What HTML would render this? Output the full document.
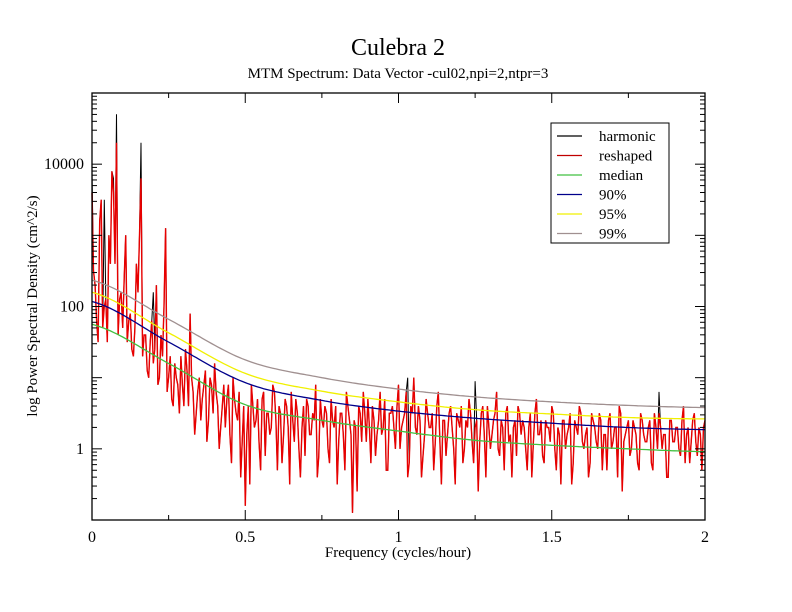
<!DOCTYPE html>
<html><head><meta charset="utf-8"><style>
body{margin:0;background:#fff;}
svg{display:block;font-family:"Liberation Serif",serif;}
</style></head><body>
<svg id="chart" width="792" height="612" viewBox="0 0 792 612">
<rect width="792" height="612" fill="#fff"/>
<text x="398" y="55" font-size="24" text-anchor="middle">Culebra 2</text>
<text x="398" y="78" font-size="15" text-anchor="middle">MTM Spectrum: Data Vector -cul02,npi=2,ntpr=3</text>
<text x="398" y="557" font-size="15" text-anchor="middle">Frequency (cycles/hour)</text>
<text transform="translate(37,306) rotate(-90)" font-size="15" text-anchor="middle">log Power Spectral Density (cm^2/s)</text>
<g id="marks"></g>
<g id="axes"></g>
<g>
<rect x="551" y="123" width="118" height="120" fill="#fff" stroke="#000" stroke-width="1"/>
<g id="legend-items"></g>
</g>
</svg>
<script>
const reshapedLog = [3.6,2.3,1.5,3.5,2.0,1.5,2.6,3.6,4.3,2.1,1.7,
3.0,1.8,1.4,1.7,2.2,3.8,1.6,1.1,1.5,1.2,
2.3,1.0,1.3,3.1,1.0,0.7,1.2,0.9,1.3,0.6,
1.1,1.9,0.8,0.5,1.0,0.7,1.1,0.4,0.9,1.2,
0.6,0.3,0.9,0.7,0.2,1.0,0.5,0.8,0.1,-0.8,
0.6,0.9,0.3,0.7,-0.3,0.8,0.5,0.2,0.9,0.4,
0.6,-0.2,0.7,0.3,0.8,0.1,0.5,-0.4,0.6,0.7,
0.2,0.5,0.9,-0.1,0.4,0.6,0.0,0.7,0.3,-0.5,
0.5,0.2,0.8,0.4,-0.9,0.3,0.6,0.1,0.5,0.7,
-0.2,0.4,0.2,0.8,0.3,-0.3,0.5,0.6,0.0,0.9,
0.3,0.5,-0.4,0.6,1.0,0.2,0.4,-0.1,0.7,0.3,
0.5,0.1,0.8,-0.5,0.4,0.2,0.6,0.0,0.5,0.3,
-0.2,0.4,0.7,0.1,0.3,-0.6,0.5,0.2,0.6,0.0,
0.4,0.8,-0.1,0.3,0.5,0.1,-0.4,0.4,0.6,0.2,
0.3,-0.3,0.5,0.1,0.7,0.2,-0.1,0.4,0.3,0.6,
0.0,0.3,-0.5,0.4,0.2,0.5,-0.2,0.3,0.6,0.1,
0.2,-0.4,0.5,0.3,0.0,0.4,0.2,-0.3,0.5,0.1,
0.3,0.6,-0.6,0.2,0.4,0.0,0.3,-0.2,0.5,0.2,
0.1,0.4,-0.3,0.3,0.5,0.0,0.2,-0.4,0.4,0.1,
0.3,-0.1,0.6,0.2,-0.2,0.4,0.1,0.3,-0.3,0.4];
const reshapedMidLog = [2.5,1.8,3.2,1.7,2.1,3.0,3.9,2.6,1.6,2.2,
2.4,1.5,1.9,1.3,2.6,3.0,1.3,1.6,1.0,1.8,
1.4,0.9,1.6,2.0,0.8,1.3,0.6,1.0,0.5,0.9,
1.4,0.6,1.0,0.2,0.8,0.4,0.9,0.1,1.0,0.5,
0.8,0.0,0.6,0.3,0.9,-0.2,0.7,0.4,-0.4,0.6,
0.2,-0.5,0.6,0.4,0.1,0.7,-0.1,0.5,0.3,0.8,
-0.3,0.5,0.2,0.6,-0.5,0.4,0.7,0.0,0.3,-0.1,
0.6,0.2,0.4,-0.4,0.7,0.3,0.5,-0.2,0.4,0.6,
0.1,0.5,-0.3,0.6,0.2,0.4,-0.6,0.5,0.8,0.1,
0.3,0.6,-0.1,0.4,0.2,0.7,-0.3,0.5,0.3,0.6,
0.0,0.4,0.8,-0.2,0.5,0.3,0.6,-0.4,0.2,0.5,
0.3,-0.3,0.6,0.1,0.4,-0.1,0.5,0.3,-0.5,0.4,
0.6,0.0,0.3,0.5,-0.2,0.4,0.1,0.6,-0.4,0.3,
0.2,0.5,0.0,0.4,-0.3,0.6,0.2,0.3,-0.1,0.5,
0.4,0.0,0.3,-0.4,0.5,0.2,0.4,-0.2,0.3,0.1,
0.5,-0.3,0.2,0.4,0.0,0.3,-0.5,0.4,0.2,0.5,
0.0,0.3,-0.2,0.4,0.1,0.5,-0.3,0.2,0.4,0.0,
0.3,-0.4,0.5,0.1,0.3,-0.1,0.4,0.2,-0.3,0.4,
0.1,0.3,-0.2,0.5,0.0,0.3,0.2,-0.4,0.4,0.1,
0.3,0.0,0.4,-0.2,0.3,0.1,0.5,-0.1,0.2,0.3];
const harmonicPeakFreq = [0,0.04,0.07,0.08,0.16,0.2,1.03,1.25,1.85];
const harmonicPeakLog = [3.9,3.5,3.8,4.7,4.3,2.2,1.0,0.95,0.8];
const thrFreq = [0,0.25,0.5,0.75,1,1.25,1.5,1.75,2];
const medianLog = [1.75,1.2,0.62,0.4,0.25,0.12,0.05,0.0,-0.04];
const p90Log = [2.07,1.5,0.93,0.68,0.53,0.43,0.36,0.3,0.27];
const p95Log = [2.2,1.63,1.06,0.81,0.66,0.55,0.49,0.44,0.42];
const p99Log = [2.37,1.82,1.25,1.0,0.84,0.73,0.66,0.61,0.58];
const xTicks = [0,0.5,1,1.5,2];
const xTickLabels = ['0','0.5','1','1.5','2'];
const yTickExps = [0,2,4];
const yTickLabels = ['1','100','10000'];

const X0=92,X1=705,Y0=93,Y1=520, LMIN=-1, LMAX=5;
const sx = f => X0 + (f/2)*(X1-X0);
const sy = l => Y1 - (l-LMIN)/(LMAX-LMIN)*(Y1-Y0);
const NS='http://www.w3.org/2000/svg';
const marks=document.getElementById('marks');
const axes=document.getElementById('axes');
function mk(tag, attrs, parent){const e=document.createElementNS(NS,tag);for(const k in attrs)e.setAttribute(k,attrs[k]);parent.appendChild(e);return e;}
function pathFrom(fs, ls){return fs.map((f,i)=>(i?'L':'M')+sx(f).toFixed(1)+','+sy(ls[i]).toFixed(1)).join('');}
function smoothPath(fs, ls){
  let d='';
  for(let k=0;k<=200;k++){
    const f=2*k/200;
    let j=Math.min(Math.floor(f/0.25),fs.length-2);
    const t=(f-fs[j])/(fs[j+1]-fs[j]);
    const p0=ls[Math.max(j-1,0)],p1=ls[j],p2=ls[j+1],p3=ls[Math.min(j+2,ls.length-1)];
    const v=0.5*((2*p1)+(-p0+p2)*t+(2*p0-5*p1+4*p2-p3)*t*t+(-p0+3*p1-3*p2+p3)*t*t*t);
    d+=(k?'L':'M')+sx(f).toFixed(1)+','+sy(v).toFixed(1);
  }
  return d;
}
const freqs=[], vals=[];
reshapedLog.forEach((v,i)=>{
  freqs.push(i*0.01); vals.push(v);
  if(i<reshapedMidLog.length){freqs.push(i*0.01+0.005); vals.push(reshapedMidLog[i]);}
});
const harm = vals.slice();
harmonicPeakFreq.forEach((f,i)=>{harm[Math.round(f/0.005)]=harmonicPeakLog[i];});
const hp=mk('path',{d:pathFrom(freqs,harm),fill:'none',stroke:'#000','stroke-width':1},marks);


const rp=mk('path',{d:pathFrom(freqs,vals),fill:'none',stroke:'#e80000','stroke-width':1.4},marks);


const thr=[['median-line',medianLog,'#40c040'],['p90-line',p90Log,'#00008b'],['p95-line',p95Log,'#f0f000'],['p99-line',p99Log,'#a09090']];
thr.forEach(t=>{
  const p=mk('path',{d:smoothPath(thrFreq,t[1]),fill:'none',stroke:t[2],'stroke-width':1.3},marks);
  
  
});
const fr=mk('rect',{x:X0,y:Y0,width:X1-X0,height:Y1-Y0,fill:'none',stroke:'#000','stroke-width':1.3},axes);


for(let v=0;v<=2.0001;v+=0.25){
  const major=Math.abs(v*2-Math.round(v*2))<1e-6, L=major?10:5, x=sx(v);
  mk('line',{x1:x,y1:Y1,x2:x,y2:Y1-L,stroke:'#000'},axes);
  mk('line',{x1:x,y1:Y0,x2:x,y2:Y0+L,stroke:'#000'},axes);
}
xTicks.forEach((v,i)=>{
  const t=mk('text',{x:sx(v),y:Y1+22,'font-size':16,'text-anchor':'middle'},axes);
  t.textContent=xTickLabels[i];
  
  
});
for(let e=LMIN;e<LMAX;e++){
  for(let k=1;k<=9;k++){
    const l=e+Math.log10(k); if(l<LMIN||l>LMAX) continue;
    const L=k===1?10:5, y=sy(l);
    mk('line',{x1:X0,y1:y,x2:X0+L,y2:y,stroke:'#000'},axes);
    mk('line',{x1:X1,y1:y,x2:X1-L,y2:y,stroke:'#000'},axes);
  }
}
yTickExps.forEach((e,i)=>{
  const t=mk('text',{x:X0-8,y:sy(e)+5,'font-size':16,'text-anchor':'end'},axes);
  t.textContent=yTickLabels[i];
  
  
});
const legNames=['harmonic','reshaped','median','90%','95%','99%'];
const legColors=['#000','#c00000','#40c040','#00008b','#f0f000','#a09090'];
const li=document.getElementById('legend-items');
legNames.forEach((n,i)=>{
  const y=136+i*19.5;
  const g=mk('g',{},li);
  
  
  mk('line',{x1:557,y1:y,x2:582,y2:y,stroke:legColors[i],'stroke-width':1.2},g);
  const t=mk('text',{x:599,y:y+5,'font-size':15},g);
  t.textContent=n;
});
</script>
</body></html>
